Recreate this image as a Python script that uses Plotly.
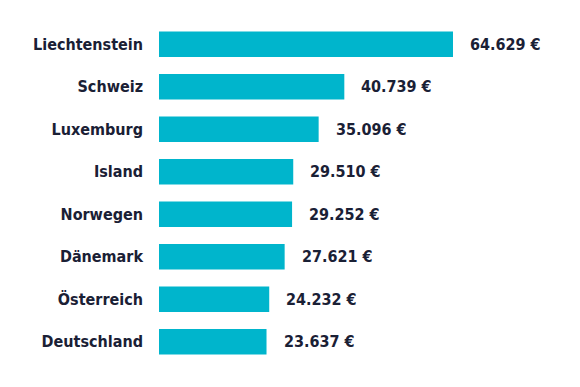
import plotly.graph_objects as go

countries = ["Liechtenstein", "Schweiz", "Luxemburg", "Island", "Norwegen", "Dänemark", "Österreich", "Deutschland"]
values = [64629, 40739, 35096, 29510, 29252, 27621, 24232, 23637]

BAR = "#00b5cc"
TXT = "#1a2035"
FONT = "'Liberation Sans Narrow', 'DejaVu Sans Condensed', 'Roboto Condensed', 'Arial Narrow', sans-serif"
SIZE = 16

fig = go.Figure(go.Bar(
    x=values, y=countries, orientation="h",
    marker=dict(color=BAR, line=dict(width=0)),
    width=0.6, hoverinfo="skip",
))

for c, v in zip(countries, values):
    fig.add_annotation(
        x=v, y=c, xref="x", yref="y",
        text=f"{v:,}".replace(",", ".") + " €",
        xanchor="left", yanchor="middle", xshift=15, showarrow=False,
        font=dict(family=FONT, size=SIZE, color=TXT, weight="bold"),
    )

fig.update_layout(
    width=572, height=379,
    margin=dict(l=151, r=10, t=15, b=24),
    paper_bgcolor="white", plot_bgcolor="white",
    showlegend=False,
    xaxis=dict(range=[0, 90350], visible=False, fixedrange=True),
    yaxis=dict(
        autorange="reversed", showgrid=False, zeroline=False, showline=False,
        ticks="", ticklabelstandoff=15, automargin=False,
        tickfont=dict(family=FONT, size=SIZE, color=TXT, weight="bold"),
        fixedrange=True,
    ),
)

fig.write_html("out.html")
